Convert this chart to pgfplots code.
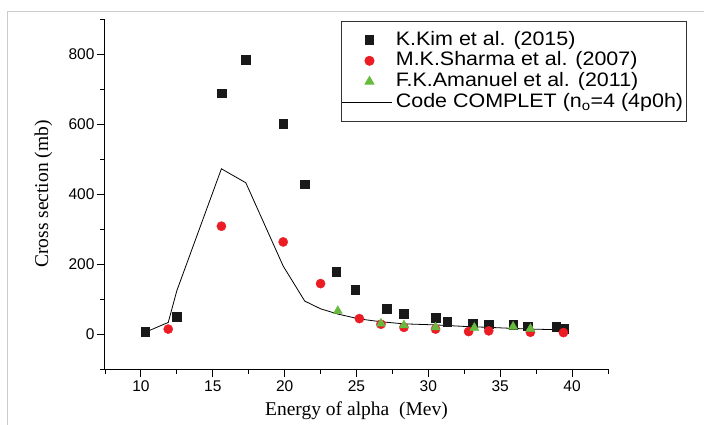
\documentclass[border=0pt]{standalone}
\usepackage{fontspec}
\setmainfont{Liberation Sans}
\newfontfamily\seriffont{Liberation Serif}
\newfontfamily\legfont{Liberation Sans}[FakeStretch=1.1]
\usepackage{pgfplots}
\pgfplotsset{compat=1.18}
\usetikzlibrary{calc}

\definecolor{kimblack}{RGB}{25,25,25}
\definecolor{sharmared}{RGB}{236,28,36}
\definecolor{amagreen}{RGB}{102,187,63}

\pgfplotsset{
  markleg/.style={legend image code/.code={\path (0pt,0pt) (50pt,0pt);
    \draw[mark repeat=2,mark phase=2,##1] plot coordinates {(0pt,0pt) (27pt,0pt) (50pt,0pt)};}},
  lineleg/.style={legend image code/.code={\draw[##1] (0pt,0pt) -- (50pt,0pt);}},
}

\begin{document}
\begin{tikzpicture}
\begin{axis}[
  name=ax,
  width=503pt, height=350pt,
  scale only axis,
  xmin=7.5, xmax=42.5,
  ymin=-100, ymax=900,
  axis x line=bottom, axis y line=left,
  axis line style={-, line width=1pt},
  xtick={10,15,...,40},
  minor xtick={7.5,12.5,...,42.5},
  ytick={0,200,...,800},
  minor ytick={-100,100,...,900},
  tick align=outside,
  major tick length=8pt, minor tick length=4.5pt,
  tick style={line width=0.9pt, black},
  /pgf/number format/assume math mode=true,
  tick label style={font=\fontsize{15.5}{17}\selectfont},
  yticklabel style={xshift=1pt},
  xlabel={Energy of alpha\ \ (Mev)},
  ylabel={Cross section (mb)},
  xlabel style={font=\seriffont\fontsize{19.5}{22}\selectfont, at={(axis description cs:0.5,-0.12)}, anchor=center},
  ylabel style={font=\seriffont\fontsize{19.5}{22}\selectfont, at={(axis description cs:-0.1223,0.5)}, anchor=center},
  legend style={at={(1.1571,0.9951)}, anchor=north east,
    draw=black!80, line width=0.8pt, fill=white,
    font=\legfont\fontsize{19.5}{22}\selectfont,
    inner xsep=0.5pt, inner ysep=8.5pt,
    nodes={inner xsep=3pt, inner ysep=0.4pt, text height=15pt, text depth=5pt},
    row sep=0pt},
  legend cell align=left,
]

\addplot[only marks, mark=square*, mark size=4.3pt, color=kimblack, markleg]
coordinates {
  (10.3,6) (12.5,50) (15.6,688) (17.3,783) (19.9,600) (21.4,428)
  (23.6,178) (24.9,126) (27.1,73) (28.3,58) (30.5,46) (31.3,36)
  (33.1,31) (34.2,28) (35.9,27) (36.9,22) (38.9,21) (39.4,16)
};
\addlegendentry{K.Kim et al. (2015)}

\addplot[only marks, mark=*, mark size=4.6pt, color=sharmared, markleg]
coordinates {
  (11.9,14) (15.6,308) (19.9,263) (22.5,144) (25.2,44) (26.7,28)
  (28.3,19) (30.5,14) (32.8,7) (34.2,9) (37.1,5) (39.4,4)
};
\addlegendentry{M.K.Sharma et al. (2007)}

\addplot[only marks, mark=triangle*, mark size=5.2pt, color=amagreen, markleg]
coordinates {
  (23.7,66) (26.7,30) (28.3,25) (30.5,19) (33.2,18) (35.9,21) (37.1,15)
};
\addlegendentry{F.K.Amanuel et al. (2011)}

\addplot[black, line width=0.8pt, mark=none, lineleg]
coordinates {
  (10.3,5) (11.9,33) (12.5,124) (15.6,472) (17.3,432) (19.9,194)
  (21.4,94) (22.5,72) (23.7,57) (25.2,43) (26.7,35) (28.3,29)
  (30.5,26) (32.8,21) (34.2,19) (35.9,16) (37.1,14) (39.4,12)
};
\addlegendentry{Code COMPLET (n\textsubscript{o}=4 (4p0h)\hspace{38pt}}

\end{axis}
\useasboundingbox ($(ax.south west)+(-105pt,-55pt)$) rectangle ($(ax.south west)+(599pt,369pt)$);
\draw[black!20, line width=1pt] ($(ax.south west)+(-97pt,-80pt)$) -- ($(ax.south west)+(-97pt,357pt)$) -- ($(ax.south west)+(640pt,357pt)$);
\end{tikzpicture}
\end{document}
